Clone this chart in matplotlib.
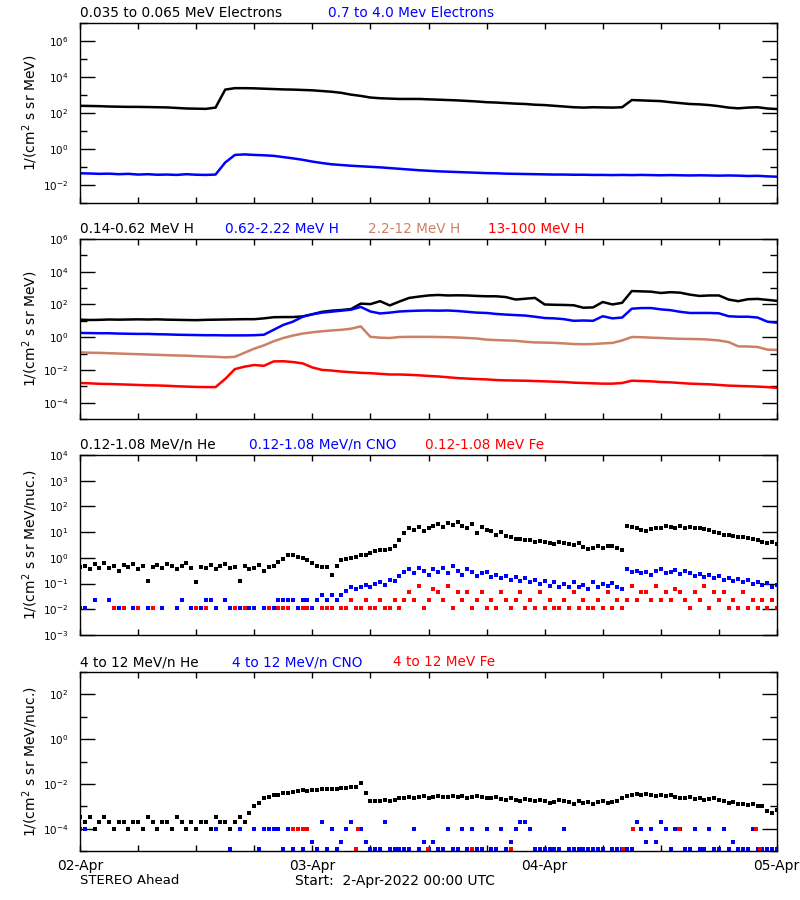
import numpy as np
import matplotlib
matplotlib.use("Agg")
import matplotlib.pyplot as plt
from matplotlib.ticker import FixedLocator, NullFormatter

nan = np.nan

# ---------------- data (log10 of flux) ----------------
# Panel 1: electrons, hourly values 02-Apr 00:00 .. 05-Apr 00:00
e_low = [2.40, 2.39, 2.38, 2.36, 2.35, 2.34, 2.34, 2.33, 2.32, 2.31, 2.28, 2.25, 2.24, 2.23, 2.30,
         3.30, 3.38, 3.38, 3.37, 3.35, 3.33, 3.31, 3.30, 3.28, 3.26, 3.22, 3.18, 3.12, 3.02, 2.95,
         2.86, 2.82, 2.80, 2.78, 2.78, 2.78, 2.76, 2.74, 2.72, 2.70, 2.67, 2.64, 2.60, 2.58, 2.55,
         2.52, 2.50, 2.46, 2.44, 2.40, 2.36, 2.32, 2.30, 2.32, 2.31, 2.30, 2.32, 2.72, 2.70, 2.68,
         2.66, 2.60, 2.55, 2.50, 2.48, 2.44, 2.38, 2.30, 2.26, 2.30, 2.32, 2.25, 2.22]
e_high = [-1.35, -1.36, -1.38, -1.37, -1.40, -1.38, -1.42, -1.40, -1.43, -1.42, -1.44, -1.40, -1.43, -1.44, -1.42,
          -0.75, -0.33, -0.30, -0.33, -0.35, -0.38, -0.45, -0.52, -0.60, -0.70, -0.78, -0.85, -0.89, -0.93, -0.96,
          -0.99, -1.02, -1.06, -1.10, -1.14, -1.18, -1.21, -1.24, -1.26, -1.28, -1.30, -1.32, -1.34, -1.35, -1.37,
          -1.38, -1.39, -1.40, -1.41, -1.42, -1.42, -1.43, -1.43, -1.44, -1.44, -1.45, -1.44, -1.45, -1.44, -1.45,
          -1.46, -1.45, -1.46, -1.47, -1.46, -1.47, -1.48, -1.47, -1.48, -1.50, -1.49, -1.52, -1.54]

# Panel 2: protons, hourly
h_1 = [1.07, 1.05, 1.06, 1.08, 1.07, 1.08, 1.09, 1.08, 1.09, 1.07, 1.06, 1.05, 1.04, 1.06, 1.07,
       1.08, 1.09, 1.10, 1.10, 1.15, 1.22, 1.23, 1.23, 1.27, 1.40, 1.55, 1.62, 1.66, 1.72, 2.05,
       2.02, 2.20, 1.94, 2.18, 2.40, 2.48, 2.55, 2.58, 2.55, 2.56, 2.55, 2.52, 2.50, 2.50, 2.45,
       2.30, 2.35, 2.40, 2.00, 1.98, 1.97, 1.95, 1.80, 1.82, 2.15, 2.00, 2.10, 2.82, 2.80, 2.78,
       2.70, 2.75, 2.72, 2.60, 2.52, 2.55, 2.55, 2.30, 2.20, 2.32, 2.34, 2.28, 2.22]
h_2 = [0.26, 0.25, 0.24, 0.24, 0.22, 0.21, 0.20, 0.20, 0.18, 0.17, 0.15, 0.14, 0.13, 0.12, 0.12,
       0.11, 0.11, 0.11, 0.12, 0.15, 0.45, 0.75, 0.95, 1.25, 1.40, 1.50, 1.56, 1.62, 1.68, 1.85,
       1.57, 1.45, 1.50, 1.57, 1.60, 1.62, 1.63, 1.62, 1.63, 1.60, 1.55, 1.50, 1.48, 1.42, 1.38,
       1.35, 1.32, 1.25, 1.17, 1.15, 1.10, 1.00, 1.02, 1.00, 1.28, 1.15, 1.20, 1.74, 1.78, 1.78,
       1.70, 1.65, 1.55, 1.48, 1.48, 1.48, 1.46, 1.28, 1.25, 1.25, 1.20, 0.95, 0.88]
h_3 = [-0.93, -0.95, -0.96, -0.98, -1.00, -1.02, -1.04, -1.06, -1.08, -1.10, -1.12, -1.13, -1.16, -1.18, -1.20,
       -1.23, -1.20, -0.95, -0.70, -0.50, -0.25, -0.05, 0.10, 0.22, 0.30, 0.36, 0.41, 0.45, 0.52, 0.66,
       0.02, -0.03, -0.05, 0.01, 0.02, 0.02, 0.02, 0.01, 0.00, -0.02, -0.05, -0.08, -0.15, -0.18, -0.20,
       -0.22, -0.28, -0.32, -0.33, -0.35, -0.38, -0.42, -0.43, -0.42, -0.38, -0.35, -0.20, 0.01, 0.00, -0.03,
       -0.05, -0.08, -0.10, -0.11, -0.12, -0.15, -0.20, -0.30, -0.56, -0.57, -0.60, -0.76, -0.78]
h_4 = [-2.80, -2.82, -2.85, -2.86, -2.88, -2.90, -2.92, -2.94, -2.95, -2.97, -3.00, -3.02, -3.04, -3.05, -3.05,
       -2.55, -1.95, -1.80, -1.70, -1.75, -1.48, -1.47, -1.52, -1.60, -1.85, -2.00, -2.04, -2.10, -2.14, -2.18,
       -2.20, -2.24, -2.28, -2.28, -2.30, -2.33, -2.37, -2.40, -2.45, -2.50, -2.53, -2.56, -2.58, -2.62, -2.64,
       -2.65, -2.66, -2.68, -2.70, -2.72, -2.74, -2.78, -2.80, -2.82, -2.84, -2.84, -2.80, -2.66, -2.68, -2.70,
       -2.74, -2.76, -2.80, -2.84, -2.86, -2.88, -2.92, -2.96, -2.98, -3.00, -3.02, -3.05, -3.10]

# Panel 3: 0.12-1.08 MeV/n ions, 30-min values
he_lo = [-0.35, -0.30, -0.45, -0.25, -0.38, -0.20, -0.40, -0.32, -0.50, -0.28, -0.36, -0.22, -0.42, -0.30,
         -0.90, -0.35, -0.28, -0.40, -0.25, -0.33, -0.45, -0.30, -0.20, -0.38, -0.92, -0.35, -0.40, -0.28,
         -0.45, -0.32, -0.25, -0.40, -0.35, -0.90, -0.30, -0.42, -0.38, -0.28, -0.50, -0.35, -0.30,
         -0.15, -0.05, 0.10, 0.12, 0.05, 0.00, -0.10, -0.20, -0.30, -0.34, -0.36, -0.65, -0.30, -0.10,
         -0.05, 0.00, 0.05, 0.10, 0.12, 0.20, 0.25, 0.30, 0.32, 0.35, 0.45, 0.70, 0.95, 1.15, 1.10, 1.20,
         1.05, 1.15, 1.25, 1.30, 1.20, 1.35, 1.28, 1.40, 1.25, 1.15, 1.30, 0.95, 1.20, 1.10, 1.05, 0.90,
         1.00, 0.85, 0.80, 0.75, 0.72, 0.70, 0.68, 0.62, 0.65, 0.60, 0.58, 0.55, 0.62, 0.58, 0.52, 0.50,
         0.56, 0.42, 0.35, 0.40, 0.45, 0.38, 0.45, 0.48, 0.40, 0.30, 1.22, 1.20, 1.15, 1.10, 1.05, 1.12,
         1.18, 1.15, 1.25, 1.20, 1.15, 1.22, 1.18, 1.20, 1.15, 1.18, 1.12, 1.10, 1.00, 0.95, 0.90, 0.88,
         0.85, 0.82, 0.80, 0.78, 0.72, 0.68, 0.62, 0.58, 0.60, 0.55]
cno_lo = [-1.96, -1.96, nan, -1.65, nan, nan, -1.65, nan, -1.96, nan, nan, -1.96, nan, nan, -1.96, nan,
          nan, -1.96, nan, nan, -1.96, -1.65, nan, -1.96, nan, -1.96, -1.65, -1.65, -1.96, nan, -1.65,
          -1.96, nan, -1.96, nan, -1.96, -1.96, nan, -1.96, nan, -1.96,
          -1.65, -1.65, -1.65, -1.65, -1.96, -1.65, -1.65, -1.96, -1.65, -1.44, -1.65, -1.44, -1.65, -1.44,
          -1.30, -1.13, -1.20, -1.13, -1.05, -1.15, -1.00, -0.95, -1.05, -0.85, -0.90, -0.70, -0.55, -0.45,
          -0.60, -0.40, -0.50, -0.65, -0.45, -0.55, -0.40, -0.60, -0.30, -0.50, -0.65, -0.45, -0.55, -0.70,
          -0.60, -0.55, -0.75, -0.65, -0.80, -0.70, -0.85, -0.75, -0.90, -0.80, -0.95, -0.85, -1.00, -0.90,
          -1.10, -0.95, -1.13, -1.00, -1.13, -0.95, -1.13, -1.05, -1.20, -0.95, -1.13, -1.00, -1.10, -0.98,
          -1.13, -1.20, -0.45, -0.55, -0.50, -0.60, -0.55, -0.65, -0.50, -0.45, -0.60, -0.55, -0.48, -0.62,
          -0.50, -0.58, -0.70, -0.62, -0.75, -0.68, -0.80, -0.72, -0.85, -0.78, -0.90, -0.82, -0.95, -0.88,
          -1.00, -0.92, -1.05, -0.98, -1.13, -1.05]
fe_lo = [-1.96, nan, nan, nan, nan, nan, nan, -1.96, -1.96, -1.96, nan, -1.96, -1.96, nan, -1.96, -1.96,
         nan, nan, nan, nan, -1.96, nan, nan, nan, -1.96, nan, -1.96, nan, nan, nan, nan, -1.96, -1.96,
         nan, -1.96, nan, nan, nan, -1.96, -1.96, -1.96,
         -1.96, -1.96, -1.96, -1.65, -1.96, -1.96, -1.96, -1.96, -1.65, -1.96, -1.96, -1.96, -1.65, -1.96,
         -1.96, -1.65, -1.96, -1.96, -1.65, -1.96, -1.96, -1.65, -1.96, -1.96, -1.65, -1.96, -1.65, -1.33,
         -1.65, -1.10, -1.96, -1.65, -1.20, -1.33, -1.65, -1.10, -1.96, -1.33, -1.65, -1.33, -1.96, -1.65,
         -1.33, -1.96, -1.65, -1.96, -1.33, -1.65, -1.96, -1.65, -1.33, -1.96, -1.65, -1.96, -1.33, -1.96,
         -1.65, -1.96, -1.96, -1.65, -1.96, -1.33, -1.96, -1.65, -1.96, -1.96, -1.65, -1.96, -1.33, -1.96,
         -1.65, -1.96, -1.65, -1.10, -1.65, -1.33, -1.33, -1.65, -1.10, -1.65, -1.33, -1.65, -1.20, -1.33,
         -1.65, -1.96, -1.33, -1.65, -1.10, -1.96, -1.33, -1.65, -1.33, -1.96, -1.65, -1.96, -1.33, -1.96,
         -1.65, -1.96, -1.65, -1.96, -1.65, -1.96]

# Panel 4: 4-12 MeV/n ions, 30-min values
he_hi = [-3.50, -3.72, -3.50, -4.00, -3.72, -3.50, -3.72, -4.00, -3.72, -3.72, -4.00, -3.72, -3.72, -4.00,
         -3.50, -3.72, -4.00, -3.72, -3.72, -4.00, -3.50, -3.72, -4.00, -3.72, -4.00, -3.72, -3.72, -4.00,
         -3.50, -3.72, -3.72, -4.00, -3.72, -3.50, -3.72, -3.30, -3.00, -2.85, -2.65, -2.60, -2.48, -2.50,
         -2.40, -2.42, -2.35, -2.30, -2.28, -2.30, -2.26, -2.28, -2.24, -2.25, -2.22, -2.24, -2.20, -2.18,
         -2.15, -2.12, -1.95, -2.40, -2.75, -2.78, -2.75, -2.72, -2.78, -2.70, -2.65, -2.62, -2.58, -2.62,
         -2.60, -2.55, -2.62, -2.58, -2.55, -2.60, -2.57, -2.52, -2.58, -2.55, -2.62, -2.58, -2.55, -2.60,
         -2.65, -2.62, -2.58, -2.68, -2.72, -2.65, -2.70, -2.75, -2.68, -2.72, -2.78, -2.70, -2.75, -2.85,
         -2.80, -2.72, -2.78, -2.82, -2.90, -2.78, -2.85, -2.80, -2.88, -2.82, -2.78, -2.85, -2.80, -2.75,
         -2.65, -2.55, -2.48, -2.45, -2.50, -2.45, -2.48, -2.52, -2.48, -2.55, -2.50, -2.58, -2.62, -2.65,
         -2.60, -2.68, -2.65, -2.70, -2.68, -2.65, -2.72, -2.78, -2.85, -2.80, -2.88, -2.92, -2.95, -2.90,
         -2.98, -3.00, -3.20, -3.30, -3.15]
cno_hi = [-4.00, -4.00, nan, nan, nan, nan, nan, nan, nan, nan, nan, nan, nan, nan, nan, nan, nan, nan,
          nan, nan, nan, nan, nan, nan, nan, nan, nan, nan, -4.00, nan, nan, -4.93, nan, -4.00, nan, nan,
          -4.00, -4.93, -4.00, -4.00, -4.00, -4.00, -4.93, -4.00, -4.93, -4.00, -4.93, -4.00, -4.61, -4.93,
          -3.72, -4.93, -4.00, -4.93, -4.61, -4.00, -3.72, -4.93, -4.00, -4.61, -4.93, -4.93, -4.93, -3.72,
          -4.93, -4.93, -4.93, -4.93, -4.93, -4.00, -4.93, -4.61, -4.93, -4.61, -4.93, -4.93, -4.00, -4.93,
          -4.93, -4.00, -4.93, -4.00, -4.93, -4.93, -4.00, -4.93, -4.93, -4.00, -4.93, -4.61, -4.00, -3.72,
          -3.72, -4.00, -4.93, -4.93, -4.93, -4.93, -4.93, -4.93, -4.00, -4.93, -4.93, -4.93, -4.93, -4.93,
          -4.93, -4.93, -4.93, nan, -4.93, -4.93, -4.93, -4.93, -4.93, -3.72, -4.00, -4.61, -4.00, -4.61,
          -3.72, -4.00, -4.93, -4.00, -4.00, -4.93, -4.93, -4.00, -4.93, -4.93, -4.00, -4.93, -4.93, -4.00,
          -4.93, -4.61, -4.93, -4.93, -4.93, -4.00, -4.93, -4.93, -4.93, -4.93, -4.93]
fe_hi_hours = [22.0, 22.5, 23.0, 23.5, 28.5, 28.7, 35.9, 40.5, 44.5, 56.1, 57.1, 61.9, 69.8, 70.2]
fe_hi_vals = [-4.00, -4.00, -4.00, -4.00, -4.93, -4.00, -4.93, -4.93, -4.93, -4.93, -4.00, -4.00, -4.00, -4.93]

day_labels = ["02-Apr", "03-Apr", "04-Apr", "05-Apr"]

TAN = "#CC8066"
BLUE = "#0000FF"
RED = "#FF0000"

plt.rcParams["font.family"] = "DejaVu Sans"
plt.rcParams["mathtext.fontset"] = "dejavusans"

fig = plt.figure(figsize=(8, 9), dpi=100)
W, H = 800.0, 900.0


def make_ax(top, bottom):
    return fig.add_axes([80 / W, 1 - bottom / H, 697 / W, (bottom - top) / H])


def style(ax, ylim, major, minor):
    ax.set_yscale("log")
    ax.set_xlim(0, 72)
    ax.set_ylim(*ylim)
    ax.yaxis.set_major_locator(FixedLocator([10.0 ** k for k in major]))
    ax.yaxis.set_minor_locator(FixedLocator([10.0 ** k for k in minor]))
    ax.yaxis.set_minor_formatter(NullFormatter())
    ax.set_yticklabels([r"$10^{%d}$" % k for k in major])
    ax.set_xticks(np.arange(0, 73, 6))
    ax.tick_params(axis="y", which="major", direction="in", length=11, width=1,
                   left=True, right=True, labelsize=7.5, pad=8.5)
    ax.tick_params(axis="y", which="minor", direction="in", length=5, width=1,
                   left=True, right=True)
    ax.tick_params(axis="x", which="major", direction="in", length=4, width=1,
                   top=True, bottom=True, labelbottom=False)
    for s in ax.spines.values():
        s.set_linewidth(1.0)


def title(y, items):
    for x, txt, c in items:
        fig.text(x / W, 1 - y / H, txt, color=c, fontsize=9.8, va="center", ha="left")


t1 = np.arange(len(e_low))
t2 = np.arange(len(h_1))
thalf = np.arange(len(he_lo)) * 0.5
thalf4 = np.arange(len(he_hi)) * 0.5
tcno3 = np.arange(len(cno_lo)) * 0.5
tfe3 = np.arange(len(fe_lo)) * 0.5
tcno4 = np.arange(len(cno_hi)) * 0.5

# ---------- panel 1 ----------
ax1 = make_ax(23, 203)
ax1.plot(t1, 10 ** np.array(e_low), color="black", lw=1.8)
ax1.plot(t1, 10 ** np.array(e_high), color=BLUE, lw=1.8)
style(ax1, (1e-3, 1e7), [6, 4, 2, 0, -2], [7, 5, 3, 1, -1, -3])
ax1.set_ylabel(r"1/(cm$^2$ s sr MeV)", fontsize=10)
title(13, [(80, "0.035 to 0.065 MeV Electrons", "black"),
           (328, "0.7 to 4.0 Mev Electrons", BLUE)])

# ---------- panel 2 ----------
ax2 = make_ax(239, 419)
ax2.plot(t2, 10 ** np.array(h_1), color="black", lw=1.8)
ax2.plot(t2, 10 ** np.array(h_2), color=BLUE, lw=1.8)
ax2.plot(t2, 10 ** np.array(h_3), color=TAN, lw=1.8)
ax2.plot(t2, 10 ** np.array(h_4), color=RED, lw=1.8)
style(ax2, (1e-5, 1e6), [6, 4, 2, 0, -2, -4], [5, 3, 1, -1, -3, -5])
ax2.set_ylabel(r"1/(cm$^2$ s sr MeV)", fontsize=10)
title(229, [(80, "0.14-0.62 MeV H", "black"), (225, "0.62-2.22 MeV H", BLUE),
            (368, "2.2-12 MeV H", TAN), (488, "13-100 MeV H", RED)])

# ---------- panel 3 ----------
ax3 = make_ax(455, 635)
mk = dict(marker="s", markersize=2.6, markeredgewidth=0, linestyle="none")
ax3.plot(tfe3, 10 ** np.array(fe_lo), color=RED, **mk)
ax3.plot(tcno3, 10 ** np.array(cno_lo), color=BLUE, **mk)
ax3.plot(thalf, 10 ** np.array(he_lo), color="black", **mk)
style(ax3, (1e-3, 1e4), [4, 3, 2, 1, 0, -1, -2, -3], [])
ax3.set_ylabel(r"1/(cm$^2$ s sr MeV/nuc.)", fontsize=10)
title(445, [(80, "0.12-1.08 MeV/n He", "black"), (249, "0.12-1.08 MeV/n CNO", BLUE),
            (425, "0.12-1.08 MeV Fe", RED)])

# ---------- panel 4 ----------
ax4 = make_ax(672, 851)
ax4.plot(thalf4, 10 ** np.array(he_hi), color="black", **mk)
ax4.plot(tcno4, 10 ** np.array(cno_hi), color=BLUE, **mk)
ax4.plot(fe_hi_hours, 10 ** np.array(fe_hi_vals), color=RED, **mk)
style(ax4, (1e-5, 1e3), [2, 0, -2, -4], [3, 1, -1, -3, -5])
ax4.set_ylabel(r"1/(cm$^2$ s sr MeV/nuc.)", fontsize=10)
title(662, [(80, "4 to 12 MeV/n He", "black"), (232, "4 to 12 MeV/n CNO", BLUE),
            (393, "4 to 12 MeV Fe", RED)])

for i, lab in enumerate(day_labels):
    fig.text((80 + i * 232) / W, 1 - 866 / H, lab, fontsize=10, ha="center", va="center")
fig.text(80 / W, 1 - 881 / H, "STEREO Ahead", fontsize=9.5, ha="left", va="center")
fig.text(295 / W, 1 - 881 / H, "Start:  2-Apr-2022 00:00 UTC", fontsize=10, ha="left", va="center")

# align y labels horizontally
for ax in (ax1, ax2, ax3, ax4):
    ax.yaxis.set_label_coords(-40 / 697, 0.5)

fig.savefig("out.png", dpi=100)
